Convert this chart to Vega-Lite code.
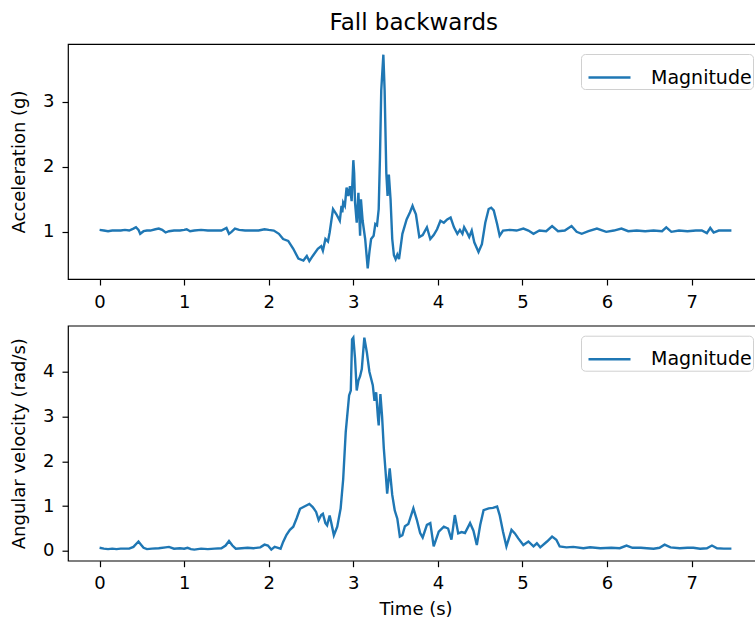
{
  "$schema": "https://vega.github.io/schema/vega-lite/v6.json",
  "title": {"text": "Fall backwards", "fontSize": 23, "font": "DejaVu Sans", "fontWeight": "normal", "offset": 8, "anchor": "middle", "dx": 27, "color": "#000000"},
  "padding": {"left": 9, "top": 12, "right": 0, "bottom": 0},
  "config": {
    "font": "DejaVu Sans",
    "view": {"stroke": "#000000", "strokeWidth": 1.2},
    "axis": {"domain": false, "grid": false, "tickColor": "#000000", "tickSize": 6, "tickWidth": 1.2, "labelPadding": 8, "labelFontSize": 18, "labelColor": "#000000", "titleFontSize": 18, "titleFontWeight": "normal", "titleColor": "#000000"},
    "legend": {"orient": "top-right", "offset": 10, "strokeColor": "#d0d0d0", "fillColor": "#ffffff", "cornerRadius": 4, "padding": 1, "labelFontSize": 19, "labelColor": "#000000", "symbolType": "stroke", "symbolSize": 1764, "symbolStrokeWidth": 2.4, "symbolOffset": 5, "labelOffset": 19}
  },
  "datasets": {
    "acc": [
      {"t":0.00,"v":1.03},{"t":0.05,"v":1.02},{"t":0.10,"v":1.01},{"t":0.15,"v":1.02},{"t":0.20,"v":1.02},{"t":0.25,"v":1.02},{"t":0.30,"v":1.03},{"t":0.35,"v":1.02},{"t":0.40,"v":1.05},{"t":0.43,"v":1.07},{"t":0.46,"v":1.03},{"t":0.48,"v":0.97},{"t":0.52,"v":1.01},{"t":0.56,"v":1.02},{"t":0.60,"v":1.02},{"t":0.66,"v":1.04},{"t":0.70,"v":1.05},{"t":0.74,"v":1.03},{"t":0.78,"v":0.99},{"t":0.82,"v":1.01},{"t":0.88,"v":1.02},{"t":0.95,"v":1.02},{"t":1.00,"v":1.03},{"t":1.03,"v":1.04},{"t":1.07,"v":1.01},{"t":1.12,"v":1.02},{"t":1.20,"v":1.03},{"t":1.28,"v":1.02},{"t":1.36,"v":1.02},{"t":1.44,"v":1.02},{"t":1.50,"v":1.06},{"t":1.53,"v":0.97},{"t":1.56,"v":1.00},{"t":1.60,"v":1.05},{"t":1.65,"v":1.03},{"t":1.72,"v":1.02},{"t":1.80,"v":1.02},{"t":1.88,"v":1.02},{"t":1.95,"v":1.04},{"t":2.00,"v":1.03},{"t":2.06,"v":1.02},{"t":2.12,"v":0.97},{"t":2.17,"v":0.89},{"t":2.23,"v":0.86},{"t":2.29,"v":0.74},{"t":2.35,"v":0.59},{"t":2.41,"v":0.56},{"t":2.45,"v":0.63},{"t":2.48,"v":0.55},{"t":2.52,"v":0.63},{"t":2.58,"v":0.74},{"t":2.62,"v":0.78},{"t":2.64,"v":0.71},{"t":2.67,"v":0.89},{"t":2.70,"v":0.85},{"t":2.72,"v":0.99},{"t":2.76,"v":1.35},{"t":2.80,"v":1.27},{"t":2.84,"v":1.17},{"t":2.86,"v":1.40},{"t":2.87,"v":1.30},{"t":2.88,"v":1.45},{"t":2.90,"v":1.40},{"t":2.92,"v":1.68},{"t":2.94,"v":1.55},{"t":2.96,"v":1.70},{"t":2.98,"v":1.47},{"t":3.00,"v":2.10},{"t":3.01,"v":1.90},{"t":3.02,"v":1.45},{"t":3.04,"v":1.14},{"t":3.06,"v":1.60},{"t":3.08,"v":0.94},{"t":3.09,"v":1.50},{"t":3.11,"v":1.17},{"t":3.14,"v":0.89},{"t":3.17,"v":0.44},{"t":3.19,"v":0.69},{"t":3.21,"v":0.89},{"t":3.24,"v":0.94},{"t":3.26,"v":1.12},{"t":3.28,"v":1.10},{"t":3.30,"v":1.35},{"t":3.315,"v":2.15},{"t":3.33,"v":3.17},{"t":3.355,"v":3.72},{"t":3.37,"v":3.17},{"t":3.39,"v":1.90},{"t":3.405,"v":1.55},{"t":3.42,"v":1.88},{"t":3.44,"v":1.50},{"t":3.46,"v":0.89},{"t":3.48,"v":0.64},{"t":3.50,"v":0.58},{"t":3.52,"v":0.65},{"t":3.54,"v":0.58},{"t":3.58,"v":0.97},{"t":3.63,"v":1.19},{"t":3.67,"v":1.30},{"t":3.70,"v":1.40},{"t":3.72,"v":1.33},{"t":3.74,"v":1.27},{"t":3.78,"v":0.92},{"t":3.82,"v":0.95},{"t":3.87,"v":1.07},{"t":3.91,"v":0.89},{"t":3.95,"v":0.95},{"t":3.99,"v":1.04},{"t":4.03,"v":1.17},{"t":4.07,"v":1.14},{"t":4.11,"v":1.19},{"t":4.15,"v":1.22},{"t":4.19,"v":1.07},{"t":4.23,"v":0.97},{"t":4.26,"v":1.03},{"t":4.29,"v":0.97},{"t":4.31,"v":1.07},{"t":4.34,"v":1.00},{"t":4.37,"v":0.92},{"t":4.40,"v":1.02},{"t":4.43,"v":0.84},{"t":4.48,"v":0.69},{"t":4.52,"v":0.81},{"t":4.56,"v":1.14},{"t":4.60,"v":1.35},{"t":4.63,"v":1.37},{"t":4.66,"v":1.33},{"t":4.70,"v":1.12},{"t":4.73,"v":0.94},{"t":4.77,"v":1.02},{"t":4.85,"v":1.03},{"t":4.93,"v":1.02},{"t":5.01,"v":1.05},{"t":5.07,"v":1.02},{"t":5.13,"v":0.97},{"t":5.20,"v":1.02},{"t":5.28,"v":1.01},{"t":5.35,"v":1.09},{"t":5.42,"v":1.01},{"t":5.50,"v":1.02},{"t":5.58,"v":1.09},{"t":5.64,"v":1.00},{"t":5.70,"v":0.97},{"t":5.78,"v":1.01},{"t":5.88,"v":1.05},{"t":5.99,"v":1.00},{"t":6.08,"v":1.02},{"t":6.17,"v":1.05},{"t":6.25,"v":1.01},{"t":6.35,"v":1.02},{"t":6.45,"v":1.01},{"t":6.55,"v":1.02},{"t":6.65,"v":1.01},{"t":6.70,"v":1.07},{"t":6.76,"v":1.00},{"t":6.85,"v":1.02},{"t":6.95,"v":1.01},{"t":7.05,"v":1.02},{"t":7.12,"v":1.02},{"t":7.18,"v":0.98},{"t":7.22,"v":1.06},{"t":7.26,"v":0.99},{"t":7.32,"v":1.02},{"t":7.40,"v":1.02},{"t":7.47,"v":1.02}
    ],
    "gyr": [
      {"t":0.00,"v":0.07},{"t":0.05,"v":0.05},{"t":0.10,"v":0.04},{"t":0.15,"v":0.05},{"t":0.20,"v":0.04},{"t":0.25,"v":0.05},{"t":0.30,"v":0.05},{"t":0.35,"v":0.05},{"t":0.40,"v":0.09},{"t":0.44,"v":0.17},{"t":0.46,"v":0.21},{"t":0.49,"v":0.14},{"t":0.52,"v":0.07},{"t":0.56,"v":0.04},{"t":0.62,"v":0.05},{"t":0.70,"v":0.06},{"t":0.78,"v":0.08},{"t":0.82,"v":0.09},{"t":0.88,"v":0.05},{"t":0.95,"v":0.06},{"t":1.00,"v":0.05},{"t":1.04,"v":0.07},{"t":1.08,"v":0.04},{"t":1.12,"v":0.03},{"t":1.20,"v":0.05},{"t":1.28,"v":0.04},{"t":1.36,"v":0.05},{"t":1.44,"v":0.06},{"t":1.49,"v":0.12},{"t":1.53,"v":0.22},{"t":1.57,"v":0.12},{"t":1.61,"v":0.05},{"t":1.68,"v":0.06},{"t":1.75,"v":0.07},{"t":1.82,"v":0.06},{"t":1.90,"v":0.08},{"t":1.95,"v":0.14},{"t":1.99,"v":0.12},{"t":2.03,"v":0.03},{"t":2.07,"v":0.09},{"t":2.11,"v":0.07},{"t":2.14,"v":0.05},{"t":2.17,"v":0.20},{"t":2.21,"v":0.36},{"t":2.25,"v":0.47},{"t":2.29,"v":0.54},{"t":2.33,"v":0.73},{"t":2.37,"v":0.94},{"t":2.41,"v":0.98},{"t":2.45,"v":1.02},{"t":2.48,"v":1.05},{"t":2.52,"v":0.98},{"t":2.56,"v":0.87},{"t":2.59,"v":0.69},{"t":2.62,"v":0.80},{"t":2.64,"v":0.83},{"t":2.67,"v":0.62},{"t":2.69,"v":0.57},{"t":2.72,"v":0.79},{"t":2.74,"v":0.62},{"t":2.77,"v":0.35},{"t":2.81,"v":0.54},{"t":2.85,"v":0.95},{"t":2.88,"v":1.60},{"t":2.91,"v":2.65},{"t":2.95,"v":3.47},{"t":2.97,"v":3.58},{"t":2.985,"v":4.72},{"t":3.00,"v":4.76},{"t":3.02,"v":4.30},{"t":3.04,"v":3.58},{"t":3.06,"v":3.80},{"t":3.08,"v":3.90},{"t":3.10,"v":4.06},{"t":3.13,"v":4.76},{"t":3.16,"v":4.43},{"t":3.19,"v":4.00},{"t":3.21,"v":3.85},{"t":3.23,"v":3.70},{"t":3.25,"v":3.35},{"t":3.27,"v":3.54},{"t":3.29,"v":3.00},{"t":3.30,"v":2.80},{"t":3.32,"v":3.50},{"t":3.34,"v":3.00},{"t":3.36,"v":2.30},{"t":3.38,"v":1.80},{"t":3.40,"v":1.28},{"t":3.43,"v":1.84},{"t":3.46,"v":1.25},{"t":3.49,"v":0.90},{"t":3.52,"v":0.72},{"t":3.55,"v":0.32},{"t":3.58,"v":0.35},{"t":3.61,"v":0.55},{"t":3.65,"v":0.60},{"t":3.71,"v":0.95},{"t":3.75,"v":0.70},{"t":3.79,"v":0.40},{"t":3.82,"v":0.30},{"t":3.87,"v":0.58},{"t":3.91,"v":0.62},{"t":3.95,"v":0.10},{"t":4.01,"v":0.43},{"t":4.07,"v":0.54},{"t":4.12,"v":0.50},{"t":4.16,"v":0.25},{"t":4.20,"v":0.80},{"t":4.24,"v":0.39},{"t":4.28,"v":0.42},{"t":4.32,"v":0.40},{"t":4.38,"v":0.62},{"t":4.42,"v":0.45},{"t":4.46,"v":0.13},{"t":4.50,"v":0.58},{"t":4.54,"v":0.91},{"t":4.60,"v":0.95},{"t":4.65,"v":0.96},{"t":4.70,"v":0.99},{"t":4.73,"v":0.80},{"t":4.77,"v":0.43},{"t":4.81,"v":0.10},{"t":4.87,"v":0.47},{"t":4.91,"v":0.39},{"t":4.95,"v":0.28},{"t":5.01,"v":0.13},{"t":5.07,"v":0.21},{"t":5.13,"v":0.10},{"t":5.17,"v":0.17},{"t":5.21,"v":0.08},{"t":5.29,"v":0.21},{"t":5.35,"v":0.32},{"t":5.40,"v":0.25},{"t":5.44,"v":0.10},{"t":5.52,"v":0.08},{"t":5.60,"v":0.09},{"t":5.72,"v":0.06},{"t":5.80,"v":0.08},{"t":5.92,"v":0.06},{"t":6.05,"v":0.07},{"t":6.15,"v":0.06},{"t":6.23,"v":0.12},{"t":6.30,"v":0.07},{"t":6.40,"v":0.07},{"t":6.47,"v":0.06},{"t":6.55,"v":0.05},{"t":6.62,"v":0.07},{"t":6.68,"v":0.14},{"t":6.75,"v":0.08},{"t":6.86,"v":0.06},{"t":6.95,"v":0.07},{"t":7.02,"v":0.07},{"t":7.10,"v":0.05},{"t":7.18,"v":0.06},{"t":7.24,"v":0.12},{"t":7.30,"v":0.06},{"t":7.38,"v":0.05},{"t":7.47,"v":0.05}
    ]
  },
  "bounds": "flush",
  "spacing": 46.7,
  "resolve": {"scale": {"color": "independent"}, "legend": {"color": "independent"}},
  "vconcat": [
    {
      "width": 695, "height": 235,
      "data": {"name": "acc"},
      "mark": {"type": "line", "strokeWidth": 2.4, "clip": true},
      "encoding": {
        "x": {"field": "t", "type": "quantitative", "scale": {"domain": [-0.3735, 7.8435], "nice": false, "zero": false}, "axis": {"values": [0,1,2,3,4,5,6,7], "title": null}},
        "y": {"field": "v", "type": "quantitative", "scale": {"domain": [0.276, 3.884], "nice": false, "zero": false}, "axis": {"values": [1,2,3], "title": "Acceleration (g)", "titlePadding": 14}},
        "color": {"datum": "Magnitude", "type": "nominal", "scale": {"range": ["#1f77b4"]}, "legend": {"title": null}}
      }
    },
    {
      "width": 695, "height": 235,
      "data": {"name": "gyr"},
      "mark": {"type": "line", "strokeWidth": 2.4, "clip": true},
      "encoding": {
        "x": {"field": "t", "type": "quantitative", "scale": {"domain": [-0.3735, 7.8435], "nice": false, "zero": false}, "axis": {"values": [0,1,2,3,4,5,6,7], "title": "Time (s)", "titlePadding": 8}},
        "y": {"field": "v", "type": "quantitative", "scale": {"domain": [-0.2185, 5.027], "nice": false, "zero": false}, "axis": {"values": [0,1,2,3,4], "title": "Angular velocity (rad/s)", "titlePadding": 14}},
        "color": {"datum": "Magnitude", "type": "nominal", "scale": {"range": ["#1f77b4"]}, "legend": {"title": null}}
      }
    }
  ]
}
